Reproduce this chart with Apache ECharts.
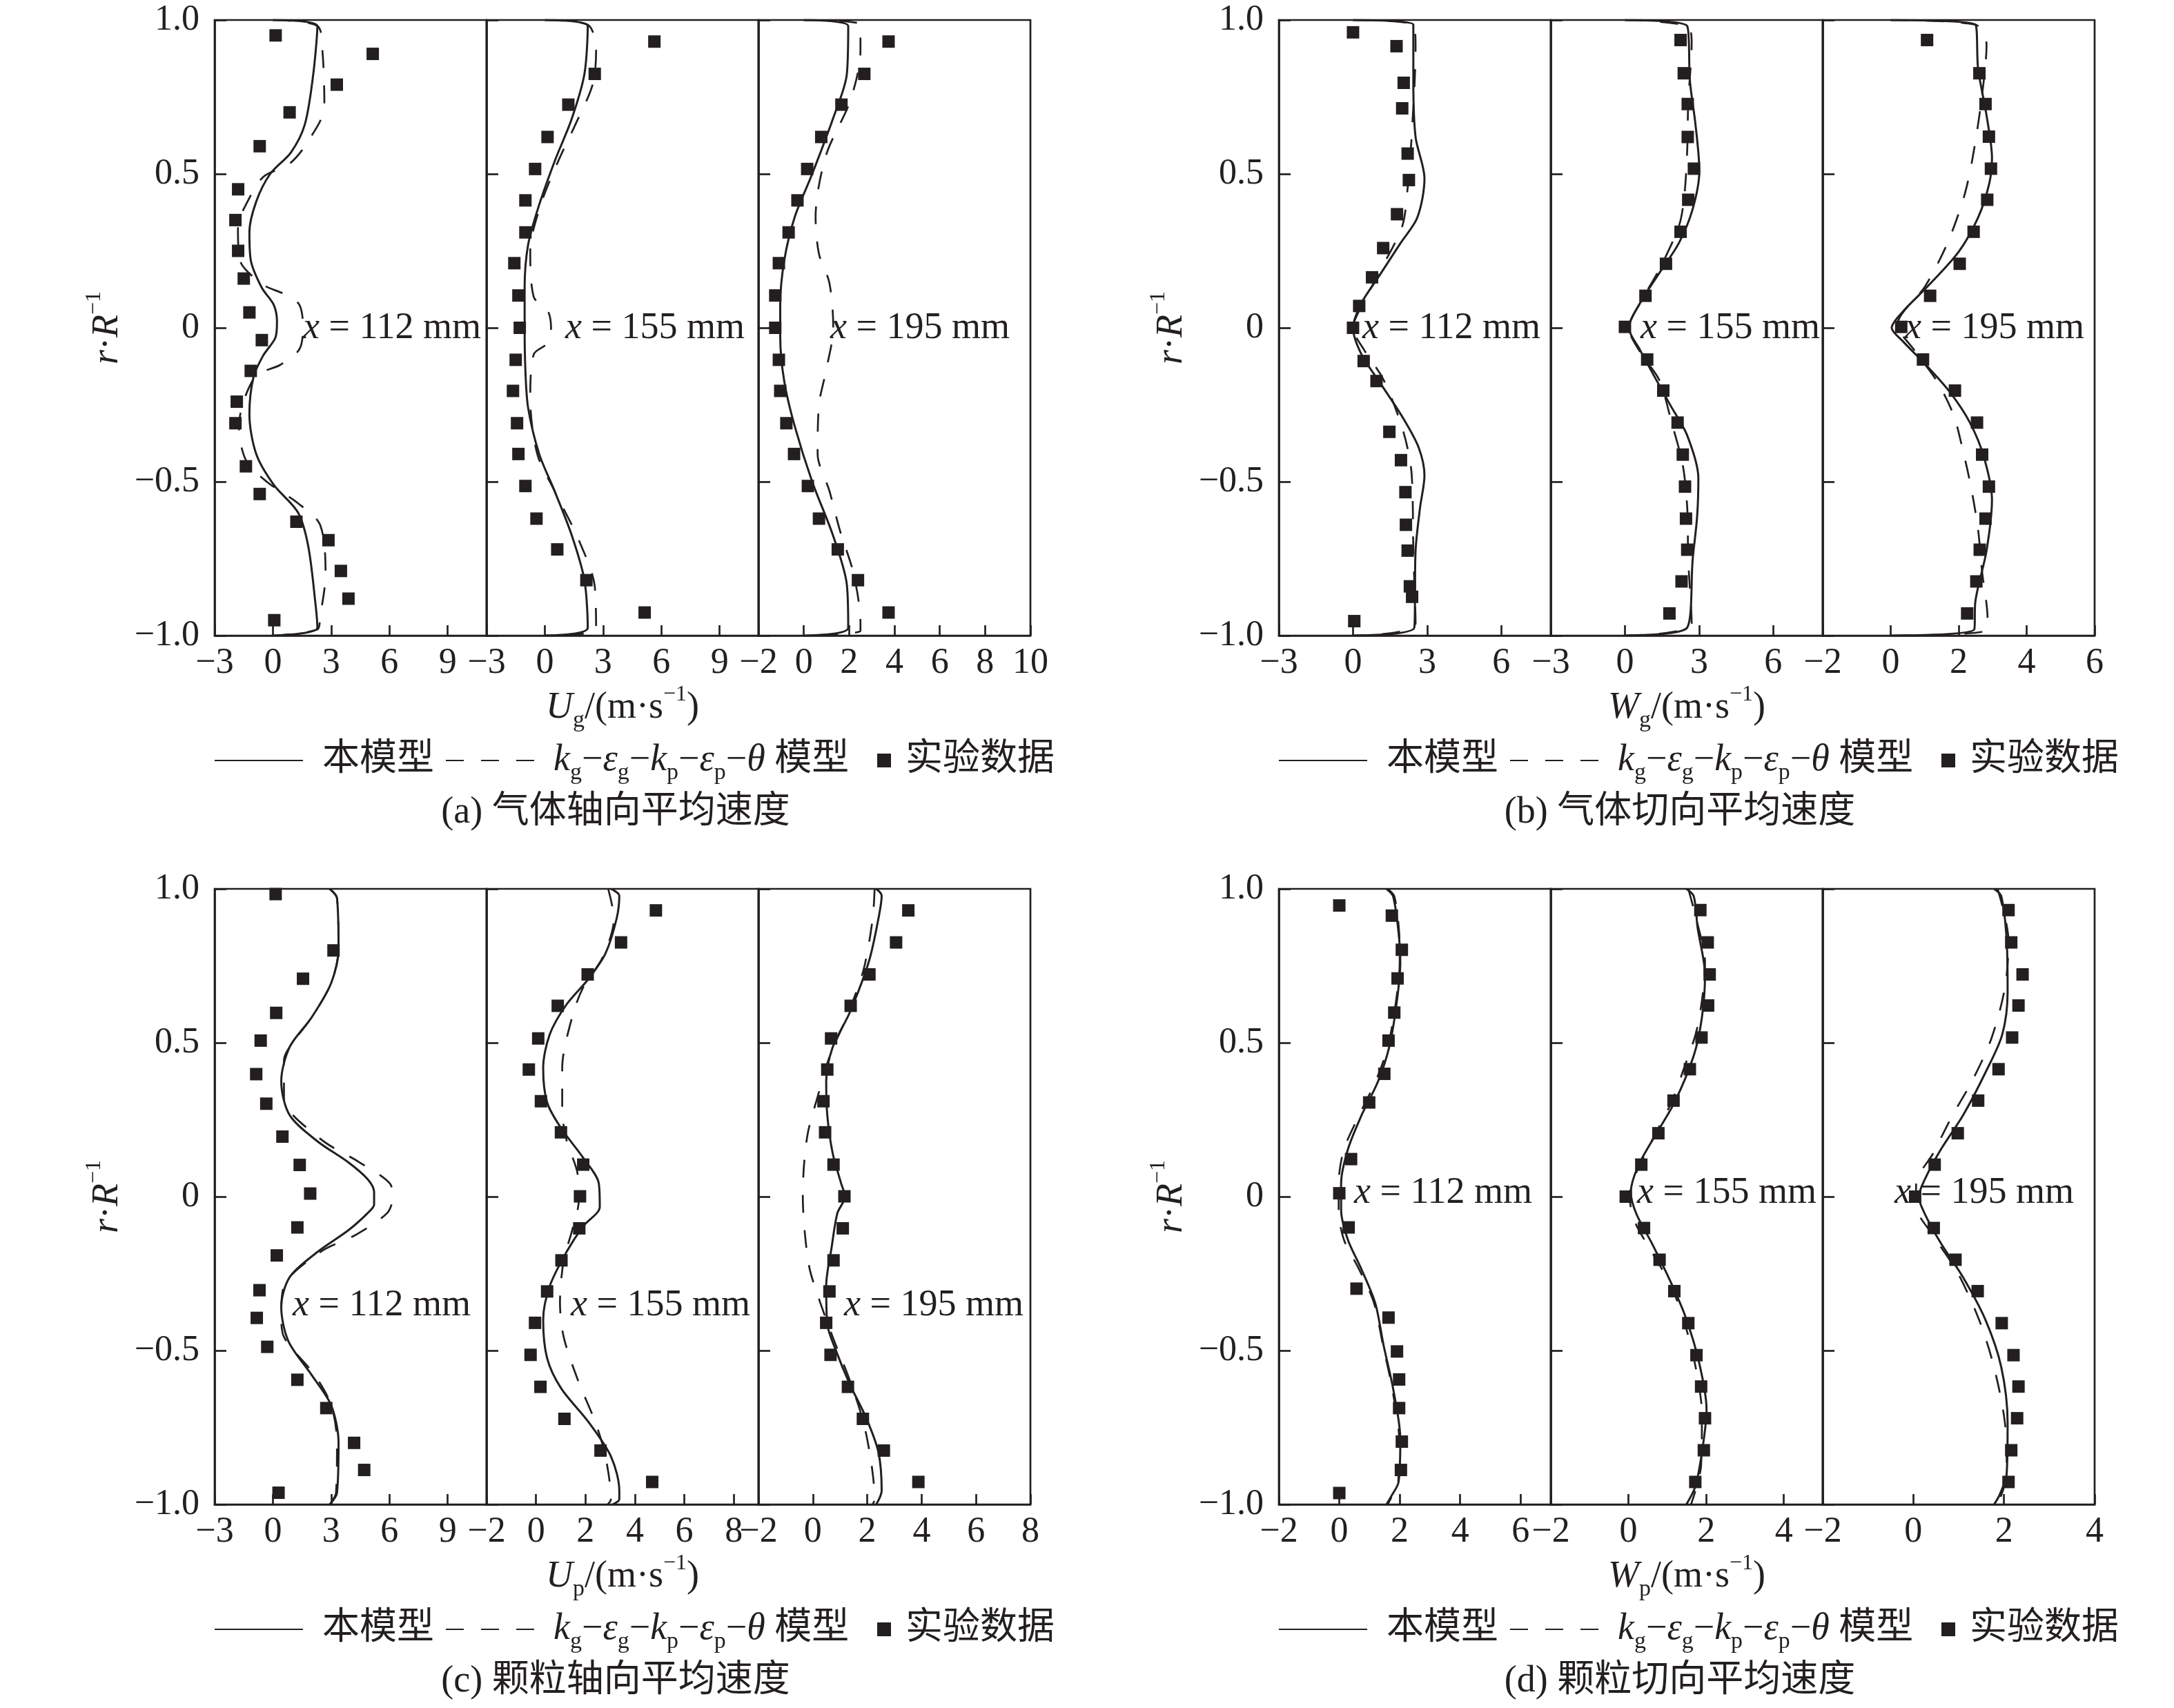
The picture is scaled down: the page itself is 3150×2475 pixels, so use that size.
<!DOCTYPE html>
<html lang="zh">
<head>
<meta charset="UTF-8">
<title>速度分布</title>
<script src="https://cdn.jsdelivr.net/npm/echarts@6/dist/echarts.min.js"></script>
<style>
    html, body { margin: 0; padding: 0; background: #fff; }
    #box { width: 3150px; height: 2475px; }
</style>
</head>
<body>
<div id="box"></div>
<script>
// 数据: [速度, r/R]，从 r/R = 1 到 -1
// (a) 气体轴向平均速度 Ug
var ug112Solid = [[0,1],[2.29,0.98],[2.07,0.82],[1.64,0.66],[0.93,0.57],[-0.14,0.5],[-0.86,0.41],[-1.21,0.31],[-1.14,0.22],[-0.57,0.13],[0.04,0.075],[0.21,0.02],[0.14,-0.03],[-0.5,-0.09],[-1.0,-0.16],[-1.21,-0.28],[-0.86,-0.41],[0.04,-0.51],[1.29,-0.6],[1.82,-0.71],[2.18,-0.89],[2.29,-0.975],[0,-1]];
var ug112Dash = [[0,1],[2.3,0.98],[2.55,0.9],[2.65,0.72],[1.75,0.6],[0.8,0.53],[-0.5,0.49],[-1.39,0.4],[-1.8,0.33],[-1.7,0.22],[-0.5,0.14],[0.57,0.11],[1.36,0.075],[1.55,0],[1.36,-0.07],[0.39,-0.12],[-0.93,-0.16],[-1.75,-0.32],[-1.39,-0.43],[-0.32,-0.5],[1.29,-0.57],[2.43,-0.64],[2.71,-0.8],[2.43,-0.94],[2.29,-0.98],[0,-1]];
var ug112Scatter = [[0.14,0.95],[5.14,0.89],[3.29,0.79],[0.86,0.7],[-0.68,0.59],[-1.79,0.45],[-1.93,0.35],[-1.79,0.25],[-1.5,0.16],[-1.21,0.05],[-0.57,-0.04],[-1.14,-0.14],[-1.86,-0.24],[-1.93,-0.31],[-1.39,-0.45],[-0.68,-0.54],[1.21,-0.63],[2.86,-0.69],[3.5,-0.79],[3.89,-0.88],[0.07,-0.95]];
var ug155Solid = [[0,1],[2.21,0.98],[2.04,0.825],[1.39,0.68],[0.5,0.54],[-0.29,0.4],[-0.86,0.27],[-1.04,0.13],[-1.04,0],[-1.0,-0.14],[-0.86,-0.26],[-0.29,-0.41],[0.5,-0.53],[1.39,-0.675],[2.04,-0.82],[2.21,-0.975],[0,-1]];
var ug155Dash = [[0,1],[2.2,0.985],[2.64,0.9],[2.46,0.79],[1.57,0.66],[0.68,0.54],[-0.21,0.4],[-0.75,0.25],[-0.57,0.1],[0.14,0.057],[0.32,0],[0.14,-0.05],[-0.57,-0.086],[-0.75,-0.23],[-0.39,-0.41],[0.5,-0.53],[1.75,-0.69],[2.57,-0.84],[2.64,-0.98],[0,-1]];
var ug155Scatter = [[5.64,0.93],[2.57,0.825],[1.21,0.725],[0.14,0.62],[-0.5,0.516],[-1.0,0.414],[-1.0,0.31],[-1.57,0.21],[-1.36,0.105],[-1.29,0],[-1.5,-0.104],[-1.64,-0.205],[-1.43,-0.31],[-1.36,-0.41],[-1.0,-0.514],[-0.43,-0.62],[0.64,-0.72],[2.14,-0.82],[5.14,-0.925]];
var ug195Solid = [[0,1],[1.96,0.98],[1.9,0.825],[1.29,0.68],[0.37,0.5],[-0.4,0.36],[-0.86,0.22],[-1.04,0.075],[-1.04,-0.03],[-0.86,-0.175],[-0.4,-0.32],[0.37,-0.5],[1.29,-0.675],[1.9,-0.835],[1.96,-0.975],[0,-1]];
var ug195Dash = [[0,1],[2.5,0.985],[2.5,0.9],[2.06,0.74],[0.98,0.56],[0.52,0.36],[0.67,0.24],[1.13,0.146],[1.3,0],[0.98,-0.14],[0.67,-0.25],[0.61,-0.41],[1.13,-0.53],[1.6,-0.66],[2.2,-0.8],[2.5,-0.96],[2.5,-0.985],[0,-1]];
var ug195Scatter = [[3.74,0.93],[2.67,0.825],[1.66,0.725],[0.77,0.62],[0.15,0.516],[-0.28,0.414],[-0.67,0.31],[-1.1,0.21],[-1.26,0.105],[-1.26,0],[-1.1,-0.104],[-1.04,-0.205],[-0.77,-0.31],[-0.43,-0.41],[0.18,-0.514],[0.67,-0.62],[1.5,-0.72],[2.39,-0.82],[3.74,-0.925]];

// (b) 气体切向平均速度 Wg
var wg112Solid = [[0,1],[2.44,0.985],[2.44,0.8],[2.53,0.62],[2.89,0.485],[2.6,0.358],[1.92,0.275],[1.02,0.164],[0.34,0.08],[0,0],[0.34,-0.086],[1.13,-0.183],[2.03,-0.294],[2.66,-0.39],[2.89,-0.48],[2.71,-0.585],[2.53,-0.724],[2.48,-0.974],[0,-1]];
var wg112Dash = [[0,1],[2.44,0.985],[2.53,0.91],[2.37,0.62],[2.21,0.455],[1.99,0.33],[1.13,0.19],[0.23,0.053],[0,0],[0.45,-0.072],[1.24,-0.17],[2.03,-0.336],[2.37,-0.474],[2.44,-0.724],[2.53,-0.96],[0,-1]];
var wg112Scatter = [[0,0.96],[1.76,0.915],[2.05,0.796],[1.99,0.713],[2.21,0.566],[2.26,0.48],[1.78,0.369],[1.22,0.259],[0.77,0.164],[0.25,0.071],[0,0],[0.43,-0.108],[0.95,-0.173],[1.47,-0.338],[1.94,-0.43],[2.12,-0.534],[2.14,-0.64],[2.21,-0.724],[2.3,-0.84],[2.39,-0.874],[0.05,-0.953]];
var wg155Solid = [[0,1],[2.52,0.98],[2.63,0.8],[2.85,0.663],[3.01,0.51],[2.74,0.386],[2.18,0.275],[1.39,0.178],[0.61,0.08],[0.16,0],[0.61,-0.072],[1.17,-0.155],[1.84,-0.252],[2.52,-0.35],[2.97,-0.488],[2.92,-0.613],[2.74,-0.752],[2.52,-0.974],[0,-1]];
var wg155Dash = [[0,1],[2.52,0.98],[2.7,0.926],[2.56,0.732],[2.52,0.58],[2.4,0.427],[2.18,0.33],[1.39,0.19],[0.61,0.08],[0.16,0],[0.67,-0.086],[1.39,-0.17],[1.89,-0.308],[2.34,-0.447],[2.52,-0.585],[2.56,-0.752],[2.7,-0.96],[0,-1]];
var wg155Scatter = [[2.25,0.935],[2.38,0.827],[2.54,0.727],[2.54,0.62],[2.79,0.517],[2.56,0.416],[2.25,0.312],[1.66,0.208],[0.83,0.104],[0,0.003],[0.9,-0.103],[1.55,-0.204],[2.13,-0.308],[2.34,-0.412],[2.43,-0.516],[2.47,-0.62],[2.52,-0.721],[2.29,-0.824],[1.8,-0.928]];
var wg195Solid = [[0,1],[2.49,0.985],[2.57,0.843],[2.82,0.69],[2.98,0.552],[2.9,0.469],[2.57,0.358],[2.0,0.247],[1.1,0.136],[0.36,0.053],[0.03,0],[0.36,-0.044],[1.1,-0.128],[1.75,-0.21],[2.33,-0.308],[2.74,-0.419],[2.98,-0.558],[2.82,-0.724],[2.49,-0.89],[2.46,-0.98],[0,-1]];
var wg195Dash = [[0,1],[2.49,0.985],[2.82,0.92],[2.66,0.732],[2.41,0.552],[2.16,0.427],[1.67,0.275],[1.02,0.136],[0.2,0.01],[0.69,-0.072],[1.34,-0.17],[1.84,-0.28],[2.08,-0.377],[2.36,-0.516],[2.57,-0.655],[2.69,-0.793],[2.85,-0.946],[2.8,-0.985],[0,-1]];
var wg195Scatter = [[1.07,0.935],[2.61,0.827],[2.79,0.727],[2.89,0.621],[2.95,0.517],[2.84,0.416],[2.44,0.312],[2.03,0.208],[1.16,0.104],[0.31,0.003],[0.95,-0.103],[1.89,-0.204],[2.54,-0.308],[2.69,-0.412],[2.89,-0.516],[2.79,-0.62],[2.62,-0.721],[2.52,-0.824],[2.25,-0.928]];

// (c) 颗粒轴向平均速度 Up
var up112Solid = [[2.92,1],[3.3,0.97],[3.38,0.805],[3.0,0.694],[2.0,0.583],[0.86,0.486],[0.43,0.375],[0.86,0.265],[2.29,0.18],[3.87,0.112],[4.87,0.057],[5.21,0.015],[5.21,-0.026],[4.87,-0.054],[3.87,-0.11],[2.29,-0.18],[0.86,-0.262],[0.43,-0.359],[0.8,-0.47],[2.0,-0.58],[3.0,-0.678],[3.38,-0.8],[3.3,-0.962],[2.92,-1]];
var up112Dash = [[2.92,1],[3.3,0.97],[3.38,0.805],[3.0,0.694],[2.0,0.583],[0.9,0.49],[0.57,0.445],[0.57,0.32],[2.44,0.188],[4.44,0.112],[6.02,0.043],[6.16,-0.005],[5.87,-0.054],[4.3,-0.123],[2.44,-0.18],[0.57,-0.29],[0.43,-0.387],[0.57,-0.456],[2.15,-0.58],[3.0,-0.678],[3.3,-0.8],[3.25,-0.962],[2.92,-1]];
var up112Scatter = [[0.14,0.983],[3.12,0.8],[1.55,0.708],[0.17,0.597],[-0.63,0.507],[-0.86,0.398],[-0.34,0.302],[0.49,0.195],[1.38,0.103],[1.92,0.01],[1.26,-0.1],[0.2,-0.191],[-0.69,-0.304],[-0.83,-0.394],[-0.29,-0.488],[1.26,-0.595],[2.75,-0.687],[4.18,-0.8],[4.7,-0.888],[0.29,-0.962]];
var up155Solid = [[3.03,1],[3.37,0.978],[3.26,0.903],[2.81,0.79],[2.13,0.708],[1.24,0.625],[0.56,0.528],[0.29,0.417],[0.45,0.306],[1.01,0.223],[1.91,0.126],[2.54,0.043],[2.58,-0.033],[1.91,-0.096],[1.24,-0.179],[0.56,-0.29],[0.29,-0.4],[0.45,-0.525],[1.01,-0.622],[2.13,-0.733],[3.03,-0.844],[3.37,-0.955],[3.37,-0.983],[3.1,-1]];
var up155Dash = [[2.92,1],[3.15,0.903],[2.7,0.778],[1.91,0.68],[1.46,0.583],[1.06,0.417],[1.06,0.279],[1.24,0.182],[1.69,0.071],[1.73,-0.012],[1.46,-0.11],[1.12,-0.207],[0.97,-0.345],[1.12,-0.456],[1.69,-0.595],[2.4,-0.733],[2.81,-0.844],[3.03,-0.983],[2.9,-1]];
var up155Scatter = [[4.85,0.93],[3.44,0.826],[2.09,0.722],[0.88,0.62],[0.09,0.514],[-0.29,0.413],[0.2,0.31],[1.01,0.209],[1.91,0.104],[1.78,0.001],[1.75,-0.103],[1.03,-0.207],[0.45,-0.308],[-0.04,-0.41],[-0.22,-0.514],[0.18,-0.618],[1.15,-0.722],[2.61,-0.825],[4.7,-0.927]];
var up195Solid = [[2.33,1],[2.53,0.978],[2.41,0.903],[2.06,0.764],[1.35,0.597],[0.73,0.486],[0.49,0.376],[0.53,0.265],[0.73,0.14],[1.04,0.043],[1.18,0],[0.9,-0.054],[0.69,-0.165],[0.49,-0.29],[0.53,-0.414],[0.84,-0.498],[1.35,-0.608],[1.96,-0.719],[2.41,-0.83],[2.53,-0.955],[2.33,-1]];
var up195Dash = [[2.27,1],[2.2,0.903],[1.86,0.736],[1.24,0.583],[0.63,0.459],[0.16,0.32],[-0.18,0.209],[-0.33,0.098],[-0.37,0],[-0.29,-0.123],[-0.12,-0.234],[0.22,-0.331],[0.73,-0.456],[1.35,-0.595],[1.86,-0.733],[2.16,-0.872],[2.27,-0.983],[2.2,-1]];
var up195Scatter = [[3.51,0.93],[3.06,0.826],[2.08,0.722],[1.39,0.62],[0.67,0.514],[0.53,0.413],[0.39,0.31],[0.45,0.209],[0.76,0.104],[1.16,0.001],[1.1,-0.103],[0.76,-0.207],[0.61,-0.308],[0.49,-0.41],[0.65,-0.514],[1.29,-0.618],[1.84,-0.722],[2.61,-0.825],[3.88,-0.927]];

// (d) 颗粒切向平均速度 Wp
var wp112Solid = [[1.56,1],[1.78,0.976],[1.96,0.859],[2.02,0.762],[1.89,0.623],[1.65,0.485],[1.28,0.374],[0.73,0.263],[0.28,0.152],[0.06,0.042],[0.06,-0.042],[0.28,-0.139],[0.73,-0.235],[1.19,-0.346],[1.47,-0.485],[1.78,-0.623],[2.02,-0.789],[1.96,-0.928],[1.74,-0.97],[1.56,-1]];
var wp112Dash = [[1.6,1],[1.82,0.976],[1.98,0.859],[2.0,0.762],[1.86,0.623],[1.6,0.485],[1.2,0.374],[0.65,0.263],[0.15,0.152],[-0.02,0.042],[-0.02,-0.042],[0.15,-0.139],[0.65,-0.235],[1.15,-0.346],[1.45,-0.485],[1.75,-0.623],[1.98,-0.789],[1.95,-0.928],[1.76,-0.97],[1.6,-1]];
var wp112Scatter = [[0,0.946],[1.74,0.913],[2.07,0.802],[1.93,0.709],[1.82,0.598],[1.63,0.507],[1.49,0.399],[0.99,0.306],[0.39,0.122],[0,0.011],[0.31,-0.1],[0.57,-0.299],[1.63,-0.393],[1.91,-0.503],[1.98,-0.594],[1.98,-0.687],[2.07,-0.796],[2.04,-0.888],[0,-0.963]];
var wp155Solid = [[1.49,1],[1.68,0.976],[1.78,0.873],[1.97,0.72],[1.89,0.582],[1.68,0.458],[1.18,0.305],[0.67,0.195],[0.24,0.097],[0.06,0.014],[0.2,-0.055],[0.6,-0.151],[1.03,-0.262],[1.46,-0.388],[1.82,-0.54],[2.01,-0.692],[1.89,-0.831],[1.72,-0.942],[1.49,-1]];
var wp155Dash = [[1.54,1],[1.75,0.9],[1.97,0.762],[1.78,0.554],[1.39,0.403],[1.1,0.305],[0.6,0.181],[0.17,0.069],[0.03,0],[0.17,-0.083],[0.6,-0.18],[1.1,-0.29],[1.49,-0.43],[1.75,-0.568],[1.89,-0.706],[1.87,-0.872],[1.61,-1]];
var wp155Scatter = [[1.85,0.931],[2.04,0.826],[2.09,0.722],[2.05,0.621],[1.88,0.517],[1.58,0.414],[1.16,0.312],[0.77,0.206],[0.33,0.104],[-0.07,0],[0.4,-0.102],[0.8,-0.205],[1.18,-0.307],[1.54,-0.411],[1.75,-0.515],[1.87,-0.617],[1.97,-0.72],[1.94,-0.824],[1.72,-0.927]];
var wp195Solid = [[1.78,1],[1.94,0.976],[2.06,0.831],[2.08,0.665],[1.96,0.526],[1.59,0.403],[1.1,0.265],[0.61,0.154],[0.25,0.055],[0.12,0],[0.25,-0.055],[0.61,-0.152],[1.1,-0.263],[1.59,-0.4],[1.94,-0.554],[2.08,-0.734],[2.06,-0.9],[1.9,-0.97],[1.78,-1]];
var wp195Dash = [[1.86,1],[2.1,0.831],[2.02,0.679],[1.72,0.513],[1.29,0.374],[0.86,0.263],[0.43,0.139],[0.06,0.042],[0.06,-0.028],[0.49,-0.137],[0.98,-0.248],[1.45,-0.4],[1.78,-0.554],[2.02,-0.734],[2.06,-0.9],[1.86,-1]];
var wp195Scatter = [[2.1,0.931],[2.16,0.826],[2.41,0.722],[2.32,0.621],[2.18,0.517],[1.88,0.414],[1.43,0.312],[0.98,0.206],[0.47,0.104],[0.04,0],[0.45,-0.102],[0.93,-0.205],[1.42,-0.307],[1.95,-0.411],[2.21,-0.515],[2.32,-0.617],[2.29,-0.72],[2.16,-0.824],[2.1,-0.927]];

// 横轴范围 [min, max, interval]
var ugRanges = [[-3, 11, 3], [-3, 11, 3], [-2, 10, 2]];
var wgRanges = [[-3, 8, 3], [-3, 8, 3], [-2, 6, 2]];
var upRanges = [[-3, 11, 3], [-2, 9, 2], [-2, 8, 2]];
var wpRanges = [[-2, 7, 2], [-2, 5, 2], [-2, 4, 2]];
var stations = ['112', '155', '195'];
var legendNames = ['本模型', 'kg-εg-kp-εp-θ 模型', '实验数据'];

var FONT = "'Liberation Serif', 'Noto Sans CJK SC', serif";
var INK = '#231f20';
var SUB_W = 394, PLOT_H = 892;

var panels = [
    {left: 311, top: 29, ranges: ugRanges, sets: [[ug112Solid, ug112Dash, ug112Scatter], [ug155Solid, ug155Dash, ug155Scatter], [ug195Solid, ug195Dash, ug195Scatter]],
        xName: '{i|U}{s|g}{n|/(m·s}{t|−1}{n|)}', caption: '(a) 气体轴向平均速度', tagX: [128, 114, 104], tagY: 447},
    {left: 1853, top: 29, ranges: wgRanges, sets: [[wg112Solid, wg112Dash, wg112Scatter], [wg155Solid, wg155Dash, wg155Scatter], [wg195Solid, wg195Dash, wg195Scatter]],
        xName: '{i|W}{s|g}{n|/(m·s}{t|−1}{n|)}', caption: '(b) 气体切向平均速度', tagX: [121, 130, 119], tagY: 447},
    {left: 311, top: 1288, ranges: upRanges, sets: [[up112Solid, up112Dash, up112Scatter], [up155Solid, up155Dash, up155Scatter], [up195Solid, up195Dash, up195Scatter]],
        xName: '{i|U}{s|p}{n|/(m·s}{t|−1}{n|)}', caption: '(c) 颗粒轴向平均速度', tagX: [113, 122, 124], tagY: 604},
    {left: 1853, top: 1288, ranges: wpRanges, sets: [[wp112Solid, wp112Dash, wp112Scatter], [wp155Solid, wp155Dash, wp155Scatter], [wp195Solid, wp195Dash, wp195Scatter]],
        xName: '{i|W}{s|p}{n|/(m·s}{t|−1}{n|)}', caption: '(d) 颗粒切向平均速度', tagX: [109, 125, 104], tagY: 441}
];

var rich = {
    i: {fontStyle: 'italic', fontSize: 54, fontFamily: FONT, color: INK, lineHeight: 70},
    n: {fontSize: 54, fontFamily: FONT, color: INK, lineHeight: 70},
    s: {fontSize: 34, fontFamily: FONT, color: INK, lineHeight: 36, verticalAlign: 'bottom'},
    t: {fontSize: 32, fontFamily: FONT, color: INK, lineHeight: 34, verticalAlign: 'top'}
};
var richFill = {
    i: {fontStyle: 'italic', fontSize: 54, fontFamily: FONT, fill: INK, lineHeight: 70},
    n: {fontSize: 54, fontFamily: FONT, fill: INK, lineHeight: 70}
};

function minus(v) {
    return String(v).replace('-', '−');
}

var grids = [], xAxes = [], yAxes = [], series = [], legends = [], graphics = [];

panels.forEach(function (p, pi) {
    for (var s = 0; s < 3; s++) {
        var g = pi * 3 + s;
        var r = p.ranges[s];
        grids.push({
            left: p.left + s * SUB_W, top: p.top, width: SUB_W, height: PLOT_H,
            show: true, borderColor: INK, borderWidth: 2.7, backgroundColor: 'transparent'
        });
        xAxes.push({
            type: 'value', gridIndex: g, min: r[0], max: r[1], interval: r[2], position: 'bottom',
            axisLine: {show: true, onZero: false, lineStyle: {color: INK, width: 2.7}},
            axisTick: {show: true, inside: true, length: 15, lineStyle: {color: INK, width: 2.7}},
            axisLabel: {
                margin: 14, fontSize: 52, fontFamily: FONT, color: INK,
                showMinLabel: true, showMaxLabel: s === 2,
                formatter: function (v) { return minus(v); }
            },
            splitLine: {show: false},
            name: s === 1 ? p.xName : '', nameLocation: 'middle', nameGap: 70,
            nameTextStyle: {fontSize: 54, fontFamily: FONT, color: INK, lineHeight: 70, rich: rich}
        });
        yAxes.push({
            type: 'value', gridIndex: g, min: -1, max: 1, interval: 0.5, position: 'left',
            axisLine: {show: true, onZero: false, lineStyle: {color: INK, width: 2.7}},
            axisTick: {show: true, inside: true, length: 17, lineStyle: {color: INK, width: 2.7}},
            axisLabel: {
                show: s === 0, margin: 22, fontSize: 52, fontFamily: FONT, color: INK,
                formatter: function (v) { return v === 0 ? '0' : minus(v.toFixed(1)); }
            },
            splitLine: {show: false},
            name: s === 0 ? '{i|r}{n|·}{i|R}{t|−1}' : '', nameLocation: 'middle', nameGap: 112, nameRotate: 90,
            nameTextStyle: {fontSize: 54, fontFamily: FONT, color: INK, lineHeight: 70, rich: rich}
        });
        var set = p.sets[s];
        series.push({
            name: legendNames[0], type: 'line', xAxisIndex: g, yAxisIndex: g, data: set[0],
            symbol: 'none', smooth: 0.3, lineStyle: {color: INK, width: 3}, itemStyle: {color: INK}, z: 3
        });
        series.push({
            name: legendNames[1], type: 'line', xAxisIndex: g, yAxisIndex: g, data: set[1],
            symbol: 'none', smooth: 0.3, lineStyle: {color: INK, width: 2.7, type: [26, 25]}, itemStyle: {color: INK}, z: 2
        });
        series.push({
            name: legendNames[2], type: 'scatter', xAxisIndex: g, yAxisIndex: g, data: set[2],
            symbol: 'rect', symbolSize: 18, itemStyle: {color: INK, opacity: 1}, z: 4
        });
        // 截面位置标注
        graphics.push({
            type: 'text', x: p.left + s * SUB_W + p.tagX[s], y: p.top + p.tagY - 35, z: 10,
            style: {text: '{i|x}{n| = ' + stations[s] + ' mm}', rich: richFill, fill: INK, font: '54px ' + FONT}
        });
    }
    var legendY = p.top + PLOT_H + 181;
    legends.push({
        data: [legendNames[0], legendNames[1]], left: p.left - 1, top: legendY - 35, padding: 0,
        itemWidth: 128, itemHeight: 2, itemGap: 16, orient: 'horizontal',
        itemStyle: {opacity: 0},
        textStyle: {fontSize: 54, fontFamily: FONT, color: INK, lineHeight: 70, padding: [0, 0, 0, 23], rich: rich},
        formatter: function (name) {
            if (name === legendNames[0]) return '{n|本模型}';
            return '{i|k}{s|g}{n|−}{i|ε}{s|g}{n|−}{i|k}{s|p}{n|−}{i|ε}{s|p}{n|−}{i|θ}{n| 模型}';
        }
    });
    legends.push({
        data: [legendNames[2]], left: p.left + 960, top: legendY - 35, padding: 0,
        itemWidth: 20, itemHeight: 20, icon: 'rect',
        textStyle: {fontSize: 54, fontFamily: FONT, color: INK, lineHeight: 70, padding: [0, 0, 0, 16]}
    });
    graphics.push({
        type: 'text', x: p.left + 581, y: p.top + PLOT_H + 257, z: 10,
        style: {text: p.caption, fill: INK, font: '54px ' + FONT, align: 'center', verticalAlign: 'middle'}
    });
});

var myChart = echarts.init(document.getElementById('box'), null, {renderer: 'canvas'});
myChart.setOption({
    backgroundColor: '#fff',
    animation: false,
    textStyle: {fontFamily: FONT},
    grid: grids,
    xAxis: xAxes,
    yAxis: yAxes,
    legend: legends,
    graphic: graphics,
    series: series
});
</script>
</body>
</html>
